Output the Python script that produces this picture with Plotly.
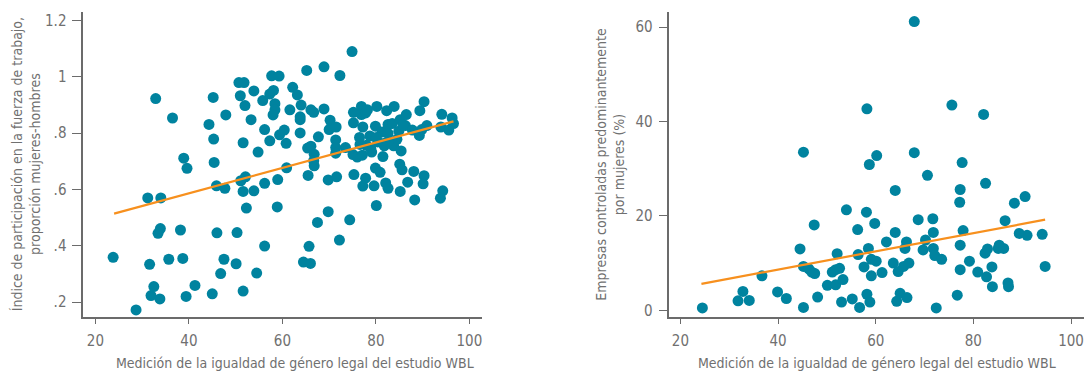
import plotly.graph_objects as go

# Panel 1: legal gender equality score (WBL) vs. female/male labour force participation ratio
wbl_lfp = [
    23.8, 28.7, 31.2, 32.9, 34.0, 31.6, 32.5, 31.9, 33.8, 33.4, 33.9, 35.7, 36.5, 38.2, 38.7,
    38.9, 39.6, 39.4, 41.3, 44.3, 45.2, 45.3, 45.4, 45.9, 46.0, 45.0, 46.8, 47.5, 47.7, 47.9,
    50.1, 50.3, 50.7, 51.8, 51.0, 52.0, 51.6, 51.1, 52.1, 51.6, 52.3, 51.6, 53.9, 53.3, 53.9,
    54.8, 54.5, 55.8, 56.2, 56.2, 56.2, 57.3, 57.7, 59.3, 57.3, 58.1, 58.4, 58.4, 58.0, 59.0,
    58.9, 59.4, 60.4, 60.8, 60.9, 61.6, 62.2, 63.2, 64.0, 63.8, 63.8, 63.8, 65.2, 66.1, 66.7,
    65.4, 66.1, 66.8, 66.7, 66.8, 65.5, 65.7, 64.5, 66.0, 67.5, 67.7, 68.9, 68.9, 69.8, 69.8,
    70.2, 70.0, 71.5, 71.4, 71.4, 71.4, 71.6, 72.2, 72.3, 73.5, 74.4, 74.9, 75.2, 75.2, 75.1,
    75.3, 76.0, 76.5, 76.9, 76.9, 77.2, 77.8, 78.0, 77.1, 77.2, 77.8, 78.2, 78.7, 78.9, 79.1,
    79.9, 80.2, 79.6, 79.9, 80.1, 80.4, 80.9, 81.3, 81.6, 81.5, 81.8, 82.3, 82.6, 82.6, 82.1,
    82.6, 83.5, 83.9, 83.8, 84.5, 84.9, 85.2, 85.4, 85.2, 85.1, 85.6, 86.5, 86.3, 86.8, 87.8,
    88.1, 88.3, 89.3, 89.4, 90.3, 90.3, 90.1, 90.9, 89.8, 94.1, 93.9, 94.3, 93.8, 96.3, 96.6,
    95.6, 85.8, 82.6, 76.6, 80.1,
]
lfp_ratio = [
    0.359, 0.172, 0.570, 0.923, 0.570, 0.334, 0.255, 0.223, 0.211, 0.444, 0.461, 0.352, 0.854,
    0.456, 0.355, 0.711, 0.675, 0.220, 0.259, 0.831, 0.927, 0.779, 0.696, 0.613, 0.446, 0.229,
    0.301, 0.352, 0.604, 0.865, 0.336, 0.447, 0.980, 0.980, 0.933, 0.898, 0.766, 0.631, 0.645,
    0.593, 0.534, 0.239, 0.950, 0.848, 0.595, 0.733, 0.303, 0.916, 0.813, 0.622, 0.399, 0.773,
    1.004, 1.003, 0.939, 0.952, 0.905, 0.883, 0.865, 0.635, 0.538, 0.794, 0.811, 0.764, 0.677,
    0.883, 0.963, 0.936, 0.900, 0.858, 0.848, 0.801, 1.023, 0.883, 0.874, 0.747, 0.754, 0.725,
    0.702, 0.684, 0.650, 0.398, 0.342, 0.337, 0.483, 0.787, 1.036, 0.886, 0.634, 0.521, 0.846,
    0.813, 0.822, 0.776, 0.749, 0.729, 0.645, 0.420, 1.005, 0.749, 0.492, 1.090, 0.874, 0.837,
    0.724, 0.653, 0.715, 0.785, 0.895, 0.866, 0.822, 0.872, 0.757, 0.722, 0.612, 0.640, 0.883,
    0.790, 0.746, 0.733, 0.825, 0.895, 0.613, 0.676, 0.543, 0.769, 0.661, 0.804, 0.763, 0.717,
    0.755, 0.880, 0.831, 0.799, 0.623, 0.604, 0.834, 0.895, 0.755, 0.778, 0.807, 0.848, 0.737,
    0.593, 0.690, 0.670, 0.866, 0.827, 0.626, 0.811, 0.664, 0.563, 0.792, 0.880, 0.912, 0.649,
    0.620, 0.827, 0.813, 0.867, 0.822, 0.595, 0.569, 0.854, 0.834, 0.811, 0.830, 0.770, 0.760,
    0.785,
]
lfp_fit_x = [24.0, 96.6]
lfp_fit_y = [0.514, 0.842]

# Panel 2: WBL score vs. share of firms with majority female ownership (%)
wbl_firms = [
    24.5, 31.8, 32.8, 34.1, 36.7, 39.9, 41.7, 44.5, 45.2, 45.2, 45.2, 46.3, 46.9, 47.4, 47.5,
    48.1, 50.1, 51.1, 51.8, 52.1, 51.8, 52.6, 53.0, 53.3, 54.0, 55.2, 56.3, 56.4, 56.7, 57.6,
    58.1, 58.2, 58.2, 58.5, 58.7, 58.8, 59.1, 59.1, 59.8, 60.1, 60.2, 61.3, 62.2, 63.6, 64.0,
    64.0, 64.3, 64.6, 65.0, 65.7, 66.0, 66.3, 66.4, 66.8, 67.9, 67.9, 68.7, 69.7, 70.2, 70.6,
    71.7, 71.8, 71.8, 72.1, 72.4, 73.5, 75.6, 76.7, 77.2, 77.3, 77.3, 77.3, 77.7, 77.9, 79.2,
    80.9, 82.1, 82.5, 82.4, 82.7, 82.9, 83.8, 83.9, 85.1, 85.3, 86.2, 86.5, 87.1, 87.2, 88.4,
    89.4, 90.6, 91.0, 94.1, 94.7,
]
female_firms = [
    0.5, 2.0, 4.0, 2.1, 7.3, 3.9, 2.5, 13.0, 33.5, 9.3, 0.6, 8.8, 8.1, 18.1, 7.8,
    2.8, 5.3, 8.1, 8.6, 12.0, 5.4, 8.9, 1.75, 6.5, 21.3, 2.4, 17.1, 11.8, 0.6, 9.2,
    20.8, 3.4, 42.7, 13.1, 30.9, 1.75, 10.8, 7.3, 18.4, 10.4, 32.8, 8.0, 14.5, 10.0, 25.4,
    16.5, 1.9, 8.2, 3.6, 9.3, 13.1, 14.5, 2.7, 10.0, 61.2, 33.4, 19.2, 12.8, 14.9, 28.6,
    19.4, 16.5, 13.1, 11.6, 0.5, 10.8, 43.5, 3.2, 22.9, 25.6, 13.8, 8.6, 31.3, 16.9, 10.4,
    8.1, 41.5, 26.9, 12.1, 7.1, 13.0, 9.2, 5.0, 13.1, 13.8, 13.1, 19.0, 5.8, 5.0, 22.7,
    16.3, 24.1, 15.9, 16.1, 9.3,
]
firms_fit_x = [24.3, 94.7]
firms_fit_y = [5.6, 19.2]

x_ticks = [20, 40, 60, 80, 100]
lfp_ticks = [0.2, 0.4, 0.6, 0.8, 1.0, 1.2]
lfp_ticktext = [".2", ".4", ".6", ".8", "1", "1.2"]
firms_ticks = [0, 20, 40, 60]

x_title = "Medición de la igualdad de género legal del estudio WBL"
y1_title = "Índice de participación en la fuerza de trabajo,<br>proporción mujeres-hombres"
y2_title = "Empresas controladas predominantemente<br>por mujeres (%)"

DOT = "#00839f"
FIT = "#f7901e"
AXIS = "#6b6b6b"
TEXT = "#707070"
FONT = "DejaVu Sans Condensed, Roboto, sans-serif"

fig = go.Figure()
fig.add_trace(go.Scatter(x=wbl_lfp, y=lfp_ratio, mode="markers",
                         marker=dict(color=DOT, size=11), xaxis="x", yaxis="y"))
fig.add_trace(go.Scatter(x=lfp_fit_x, y=lfp_fit_y, mode="lines",
                         line=dict(color=FIT, width=2.2), xaxis="x", yaxis="y"))
fig.add_trace(go.Scatter(x=wbl_firms, y=female_firms, mode="markers",
                         marker=dict(color=DOT, size=11), xaxis="x2", yaxis="y2"))
fig.add_trace(go.Scatter(x=firms_fit_x, y=firms_fit_y, mode="lines",
                         line=dict(color=FIT, width=2.2), xaxis="x2", yaxis="y2"))

W, H = 1090, 375
ydom = [1 - 319.5 / H, 1 - 11.7 / H]
x1dom = [83.3, 482.0]
x2dom = [670.0, 1084.7]
axis_common = dict(showline=True, linecolor=AXIS, linewidth=1.5, showgrid=False,
                   zeroline=False, ticks="outside", tickcolor=AXIS, tickwidth=1.3,
                   tickfont=dict(family=FONT, size=15, color=TEXT))

fig.update_layout(
    width=W, height=H, margin=dict(l=0, r=0, t=0, b=0),
    paper_bgcolor="white", plot_bgcolor="white", showlegend=False,
    font=dict(family=FONT, color=TEXT),
    xaxis=dict(domain=[x1dom[0] / W, x1dom[1] / W], range=[17.4, 102.6], tickvals=x_ticks,
               ticklen=5, ticklabelstandoff=4, anchor="y", **axis_common),
    yaxis=dict(domain=ydom, range=[0.147, 1.232], tickvals=lfp_ticks, ticktext=lfp_ticktext,
               ticklen=9, ticklabelstandoff=3, anchor="x", **axis_common),
    xaxis2=dict(domain=[x2dom[0] / W, x2dom[1] / W], range=[17.74, 102.6], tickvals=x_ticks,
                ticklen=5, ticklabelstandoff=4, anchor="y2", **axis_common),
    yaxis2=dict(domain=ydom, range=[-1.41, 63.3], tickvals=firms_ticks,
                ticklen=9, ticklabelstandoff=3, anchor="x2", **axis_common),
)

title_font = dict(family=FONT, size=14, color=TEXT)
ymid = (ydom[0] + ydom[1]) / 2
for xc in (295, 878):
    fig.add_annotation(text=x_title, xref="paper", yref="paper", x=xc / W,
                       y=1 - 366 / H, xanchor="center", yanchor="middle", showarrow=False,
                       font=title_font)
fig.add_annotation(text=y1_title, xref="paper", yref="paper", x=26 / W, y=ymid,
                   xanchor="center", yanchor="middle", textangle=-90, showarrow=False,
                   align="center", font=title_font)
fig.add_annotation(text=y2_title, xref="paper", yref="paper", x=611 / W, y=ymid,
                   xanchor="center", yanchor="middle", textangle=-90, showarrow=False,
                   align="center", font=title_font)

fig.write_html("out.html")
